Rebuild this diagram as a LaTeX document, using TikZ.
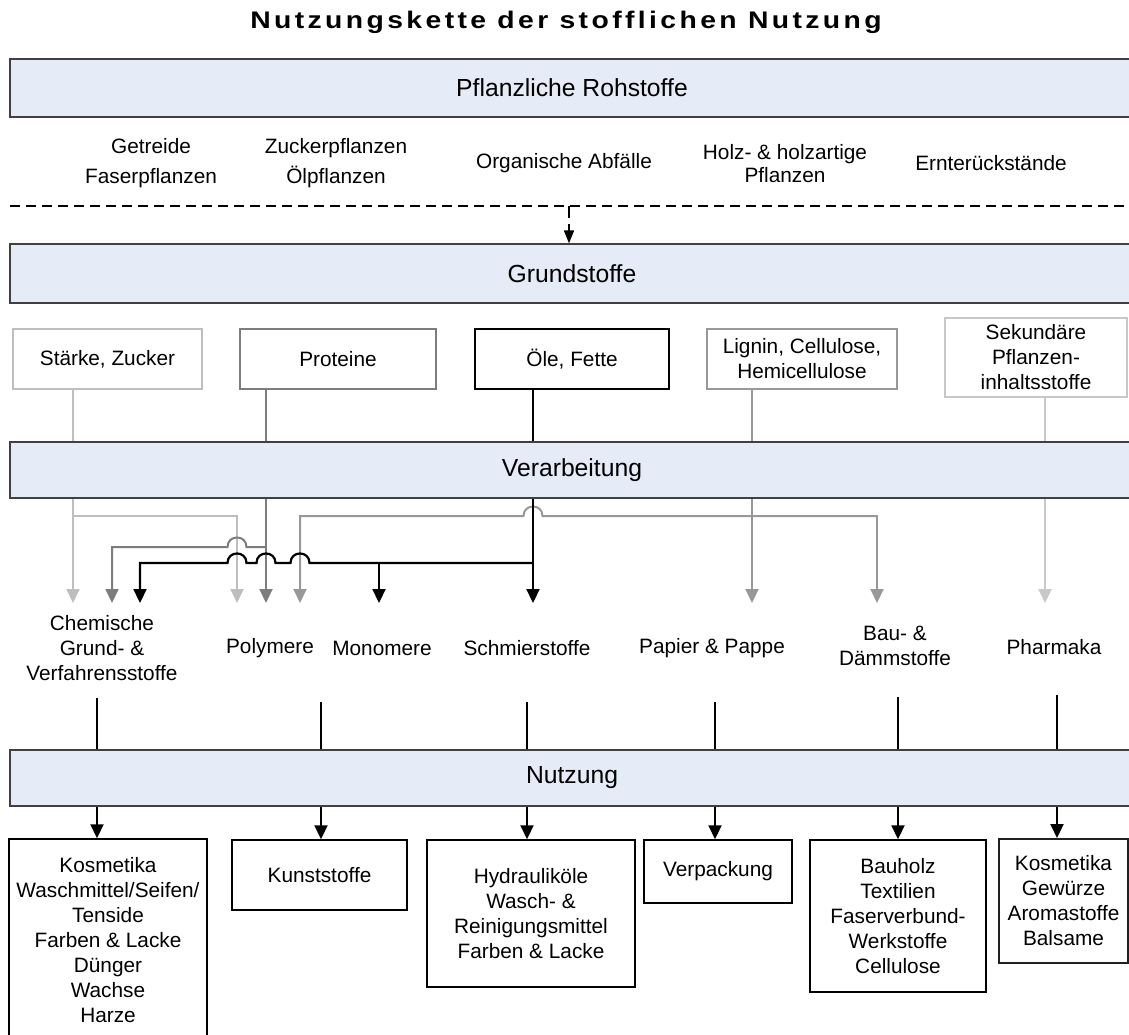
\documentclass[tikz,border=0pt]{standalone}
\usepackage{fontspec}
\setmainfont{Liberation Sans}
\newfontfamily\titlefont[LetterSpace=12]{Liberation Sans}
\usetikzlibrary{arrows.meta}
\definecolor{bandfill}{RGB}{229,236,247}
\definecolor{bandline}{RGB}{64,64,64}
\definecolor{cLight}{RGB}{190,190,190}
\definecolor{cGray}{RGB}{125,125,125}
\definecolor{cLig}{RGB}{152,152,152}
\definecolor{cSek}{RGB}{200,200,200}
\definecolor{cDark}{RGB}{32,32,32}
\begin{document}
\begin{tikzpicture}[x=1pt,y=-1pt,font=\fontsize{20.8}{25}\selectfont,
  band/.style={draw=bandline, line width=1.2pt, fill=bandfill, minimum width=1124pt, inner sep=0pt, font=\fontsize{24.7}{29}\selectfont},
  srcbox/.style={draw, line width=2pt, fill=white, inner sep=0pt, align=center},
  prodlabel/.style={align=center, inner sep=0pt},
  usebox/.style={draw=black, line width=1.5pt, fill=white, inner sep=0pt, align=center},
  tip/.style={-{Triangle[length=14pt,width=13pt]}},
  ln/.style={line width=2pt},
  lightln/.style={ln, draw=cLight, color=cLight},
  grayln/.style={ln, draw=cGray, color=cGray},
  blackln/.style={line width=2.2pt, draw=black, color=black},
  ligln/.style={ln, draw=cLig, color=cLig},
  sekln/.style={ln, draw=cSek, color=cSek},
  hopleft/.style 2 args={insert path={-- (#1+9.5,#2) .. controls (#1+9.5,#2-12.7) and (#1-9.5,#2-12.7) .. (#1-9.5,#2)}}
]
\path[use as bounding box] (0,0) rectangle (1129,1035);
\clip (0,0) rectangle (1129,1035);

% title
\node[font={\titlefont\bfseries\fontsize{24}{28}\selectfont}] (title) at (566,22) {\scalebox{1.18}[1]{Nutzungskette der stofflichen Nutzung}};

% bands
\node[band, minimum height=58pt] (roh) at (572,88) {Pflanzliche Rohstoffe};
\node[band, minimum height=59pt] (grund) at (572,273.5) {Grundstoffe};
\node[band, minimum height=56pt] (verarb) at (572,470) {Verarbeitung};
\node[band, minimum height=56pt] (nutz) at (572,778) {Nutzung};

% raw materials
\node[prodlabel] (getr) at (151,163) {Getreide\\[5pt]Faserpflanzen};
\node[prodlabel] (zuck) at (336,163) {Zuckerpflanzen\\[5pt]Ölpflanzen};
\node[prodlabel] (org) at (564,163) {Organische Abfälle};
\node[prodlabel] (holz) at (785,164) {Holz- \& holzartige\\[-2pt]Pflanzen};
\node[prodlabel] (ernte) at (991,163) {Ernterückstände};

% dashed line and arrow
\coordinate (dl) at (10,206);
\coordinate (dr) at (1129,206);
\coordinate (dm) at (569,206);
\draw[line width=2pt, dash pattern=on 10pt off 6pt] (dl) -- (dr);
\draw[line width=1.5pt, dash pattern=on 12pt off 6pt, -{Triangle[length=13pt,width=10pt]}] (dm) -- (dm |- grund.north);

% source boxes
\node[srcbox, draw=cLight, minimum width=189pt, minimum height=60pt] (stz) at (107.5,359) {Stärke, Zucker};
\node[srcbox, draw=cGray, minimum width=196pt, minimum height=60pt] (prot) at (338,359) {Proteine};
\node[srcbox, draw=black, minimum width=194pt, minimum height=60pt] (oel) at (572,359) {Öle, Fette};
\node[srcbox, draw=cLig, minimum width=190pt, minimum height=60pt] (lig) at (802,359) {Lignin, Cellulose,\\Hemicellulose};
\node[srcbox, draw=cSek, minimum width=182pt, minimum height=79pt] (sek) at (1036,357.5) {Sekundäre\\Pflanzen-\\inhaltsstoffe};

% arrow targets
\coordinate (a1) at (73,603);
\coordinate (a2) at (112,603);
\coordinate (a3) at (140,603);
\coordinate (a4) at (237,603);
\coordinate (a5) at (266,603);
\coordinate (a6) at (300,603);
\coordinate (a7) at (379,603);
\coordinate (a8) at (533,603);
\coordinate (a9) at (752,603);
\coordinate (a10) at (877,603);
\coordinate (a11) at (1045,603);

% source lines into Verarbeitung
\draw[lightln] (stz.south -| a1) -- (a1 |- verarb.north);
\draw[grayln] (prot.south -| a5) -- (a5 |- verarb.north);
\draw[blackln] (oel.south -| a8) -- (a8 |- verarb.north);
\draw[ligln] (lig.south -| a9) -- (a9 |- verarb.north);
\draw[sekln] (sek.south -| a11) -- (a11 |- verarb.north);

% routing below Verarbeitung
\draw[lightln,tip] (a1 |- verarb.south) -- (a1);
\draw[lightln,tip] (73,516) -| (a4);
\draw[grayln,tip] (a5 |- verarb.south) -- (a5);
\draw[grayln,tip] (266,547) [hopleft={237}{547}] -| (a2);
\draw[ligln,tip] (a9 |- verarb.south) -- (a9);
\draw[ligln,tip] (877,516) [hopleft={533}{516}] -| (a6);
\draw[ligln,tip] (752,516) -| (a10);
\draw[blackln,tip] (a8 |- verarb.south) -- (a8);
\draw[blackln,tip] (533,563) [hopleft={300}{563}] [hopleft={266}{563}] [hopleft={237}{563}] -| (a3);
\draw[blackln,tip] (379,563) -- (a7);
\draw[sekln,tip] (a11 |- verarb.south) -- (a11);

% product labels
\node[prodlabel] (chem) at (102,648) {Chemische\\Grund- \&\\Verfahrensstoffe};
\node[prodlabel] (poly) at (270,648) {Polymere};
\node[prodlabel] (mono) at (382,648) {Monomere};
\node[prodlabel] (schm) at (527,648) {Schmierstoffe};
\node[prodlabel] (pap) at (712,648) {Papier \& Pappe};
\node[prodlabel] (bau) at (895,646) {Bau- \&\\Dämmstoffe};
\node[prodlabel] (pharm) at (1054,647) {Pharmaka};

% use boxes
\node[usebox, minimum width=198pt, minimum height=202pt] (b1) at (108,940) {Kosmetika\\Waschmittel/Seifen/\\Tenside\\Farben \& Lacke\\Dünger\\Wachse\\Harze};
\node[usebox, minimum width=175pt, minimum height=70pt] (b2) at (319.5,875) {Kunststoffe};
\node[usebox, minimum width=208pt, minimum height=147pt] (b3) at (531,913.5) {Hydrauliköle\\Wasch- \&\\Reinigungsmittel\\Farben \& Lacke};
\node[usebox, minimum width=148pt, minimum height=63pt] (b4) at (718,871.5) {Verpackung};
\node[usebox, minimum width=176pt, minimum height=152pt] (b5) at (898,916) {Bauholz\\Textilien\\Faserverbund-\\Werkstoffe\\Cellulose};
\node[usebox, draw=cDark, line width=2pt, minimum width=129pt, minimum height=124pt] (b6) at (1063.5,901) {Kosmetika\\Gewürze\\Aromastoffe\\Balsame};

% lines into Nutzung and arrows to use boxes
\coordinate (u1) at (97,698);
\coordinate (u2) at (321,702);
\coordinate (u3) at (527,702);
\coordinate (u4) at (715,702);
\coordinate (u5) at (898,697);
\coordinate (u6) at (1057,695);
\draw[blackln] (u1) -- (u1 |- nutz.north);
\draw[blackln] (u2) -- (u2 |- nutz.north);
\draw[blackln] (u3) -- (u3 |- nutz.north);
\draw[blackln] (u4) -- (u4 |- nutz.north);
\draw[blackln] (u5) -- (u5 |- nutz.north);
\draw[blackln] (u6) -- (u6 |- nutz.north);
\draw[blackln,tip] (u1 |- nutz.south) -- (u1 |- b1.north);
\draw[blackln,tip] (u2 |- nutz.south) -- (u2 |- b2.north);
\draw[blackln,tip] (u3 |- nutz.south) -- (u3 |- b3.north);
\draw[blackln,tip] (u4 |- nutz.south) -- (u4 |- b4.north);
\draw[blackln,tip] (u5 |- nutz.south) -- (u5 |- b5.north);
\draw[blackln,tip] (u6 |- nutz.south) -- (u6 |- b6.north);
\end{tikzpicture}
\end{document}
